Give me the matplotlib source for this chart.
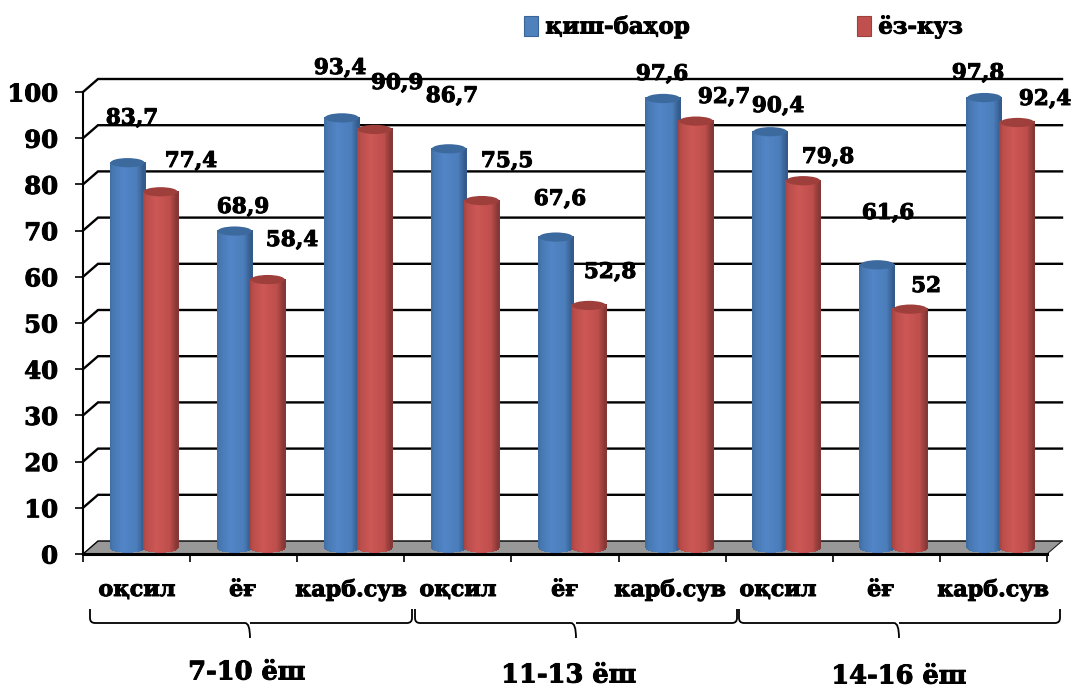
"""Grouped pseudo-3D cylinder chart: winter-spring vs summer-autumn shares by age group."""

import matplotlib
matplotlib.use("Agg")
import matplotlib.font_manager as fm
import matplotlib.patheffects as pe
import matplotlib.pyplot as plt
import numpy as np
from matplotlib.colors import to_rgb
from matplotlib.patches import Ellipse, PathPatch, Polygon, Rectangle
from matplotlib.path import Path

W, H = 1075, 689

categories = ["оқсил", "ёғ", "карб.сув"] * 3
age_groups = ["7-10 ёш", "11-13 ёш", "14-16 ёш"]
series_names = ["қиш-баҳор", "ёз-куз"]
winter_spring = [83.7, 68.9, 93.4, 86.7, 67.6, 97.6, 90.4, 61.6, 97.8]
summer_autumn = [77.4, 58.4, 90.9, 75.5, 52.8, 92.7, 79.8, 52, 92.4]
y_ticks = [0, 10, 20, 30, 40, 50, 60, 70, 80, 90, 100]

HEAVY = [pe.withStroke(linewidth=0.7, foreground="black")]


def bold(size):
    return fm.FontProperties(family="DejaVu Serif", weight="bold", size=size)


fig = plt.figure(figsize=(W / 100, H / 100), dpi=100)
ax = fig.add_axes([83 / W, (H - 554) / H, 964 / W, 462 / H])


def px(x, y):
    """reference pixel -> figure fraction"""
    return x / W, 1 - y / H


def cylinder(left, width, value, stops, top_color, zorder):
    bottom, top = 1.5, value + 1.0
    ry = 1.0
    mid = left + width / 2
    xs = np.linspace(left, left + width, 61)
    # lower edge follows the front half of the base ellipse
    sag = ry * np.sqrt(np.clip(1 - ((xs - mid) / (width / 2)) ** 2, 0, 1))
    X = np.vstack([xs, xs])
    Y = np.vstack([bottom - sag, np.full_like(xs, top)])
    u = (np.arange(60) + 0.5) / 60
    xp = [s[0] for s in stops]
    rgb = np.array([to_rgb(s[1]) for s in stops])
    C = np.stack([np.interp(u, xp, rgb[:, i]) for i in range(3)], axis=-1)[None, :, :]
    ax.pcolormesh(X, Y, C, shading="flat", zorder=zorder, edgecolors="face", linewidth=0.2)
    ax.add_patch(Ellipse((mid, top), width, 2 * ry, fc=top_color, ec="none", zorder=zorder + 0.1))


BLUE = [(0, "#3f6c9f"), (0.1, "#4778b2"), (0.4, "#5285c7"), (0.8, "#4b7dba"), (1, "#34598a")]
RED = [(0, "#a34341"), (0.1, "#b94d4a"), (0.4, "#cd5755"), (0.8, "#bd4e4b"), (1, "#843735")]

# back wall, floor and their diagonals
dx, dy = 15 / 107.1, 13 / 4.62
ax.add_patch(Polygon([(0, 0), (dx, dy), (9 + dx, dy), (9, 0)], fc="#989898", ec="none",
                     clip_on=False, zorder=1))
for v in y_ticks:
    ax.plot([0, dx, 9 + dx], [v, v + dy, v + dy], color="black", lw=1.7 if v else 1.0, clip_on=False,
            solid_joinstyle="miter", zorder=2 if v else 1.5)
ax.plot([9, 9 + dx], [0, dy], color="#222222", lw=0.8, clip_on=False, zorder=1.5)

for i, (a, b) in enumerate(zip(winter_spring, summer_autumn)):
    cylinder(i + 0.257, 0.318, a, BLUE, "#3d6a9e", 3 + i)
    cylinder(i + 0.565, 0.318, b, RED, "#9e3f3c", 3.5 + i)

ax.set_xlim(0, 9)
ax.set_ylim(0, 100)
ax.patch.set_visible(False)
for side in ("top", "right"):
    ax.spines[side].set_visible(False)
ax.spines["left"].set_linewidth(1.5)
ax.spines["bottom"].set_linewidth(2.2)
ax.spines["bottom"].set_zorder(30)
ax.set_yticks(y_ticks)
ax.set_xticks(range(10))
ax.set_xticklabels([])
ax.tick_params(axis="y", length=6, width=1.2, pad=12)
ax.tick_params(axis="x", length=6, width=1.2)
for t in ax.get_yticklabels():
    t.set_fontproperties(bold(17.5))
    t.set_path_effects(HEAVY)

# value labels, hand-placed as in the source
label_xy = [(132, 118), (243, 207), (340, 68), (452, 96), (560, 199), (662, 74), (778, 106), (888, 213), (978, 73)]
label_xy2 = [(191, 161), (292, 240), (397, 83), (507, 161), (610, 272), (724, 97), (828, 157), (926, 286), (1045, 99)]
for vals, places in ((winter_spring, label_xy), (summer_autumn, label_xy2)):
    for v, (x, y) in zip(vals, places):
        fig.text(*px(x, y), f"{v}".replace(".", ","), ha="center", va="center",
                 fontproperties=bold(15.5), zorder=50, path_effects=HEAVY)

# category labels
cat_x = [137, 243, 351, 458, 565, 670, 778, 881, 993]
for name, x in zip(categories, cat_x):
    fig.text(*px(x, 590), name, ha="center", va="center", fontproperties=bold(16), path_effects=HEAVY)


def brace(x0, xc, x1):
    yt, ym, yb = 609, 623, 638
    r = 5
    verts = [(x0, yt), (x0, ym - r), (x0, ym), (x0 + r, ym), (xc - r, ym), (xc, ym), (xc, yb),
             (xc, ym), (xc + r, ym), (x1 - r, ym), (x1, ym), (x1, ym - r), (x1, yt)]
    codes = [Path.MOVETO, Path.LINETO, Path.CURVE3, Path.CURVE3, Path.LINETO, Path.CURVE3, Path.CURVE3,
             Path.MOVETO, Path.LINETO, Path.LINETO, Path.CURVE3, Path.CURVE3, Path.LINETO]
    fig.add_artist(PathPatch(Path([px(*p) for p in verts], codes), fc="none", ec="black", lw=1.3,
                             transform=fig.transFigure))


brace_spans = [(90, 250, 412), (415, 576, 737), (739, 899, 1060)]
group_xy = [(247, 672), (569, 675), (899, 676)]
for name, span, (x, y) in zip(age_groups, brace_spans, group_xy):
    brace(*span)
    fig.text(*px(x, y), name, ha="center", va="center", fontproperties=bold(18.5), path_effects=HEAVY)

# legend
handles = [Rectangle((0, 0), 1, 1, fc="#4f81bd", ec="#3b6596", lw=0.8),
           Rectangle((0, 0), 1, 1, fc="#c0504d", ec="#9c403e", lw=0.8)]
leg = fig.legend(handles, series_names, ncol=2, frameon=False, prop=bold(16.5), loc="center",
                 bbox_to_anchor=px(743, 27), handlelength=0.65, handleheight=0.95, handletextpad=0.3,
                 columnspacing=7.3, borderpad=0)
for t in leg.get_texts():
    t.set_path_effects(HEAVY)

fig.savefig("out.png", dpi=100)
